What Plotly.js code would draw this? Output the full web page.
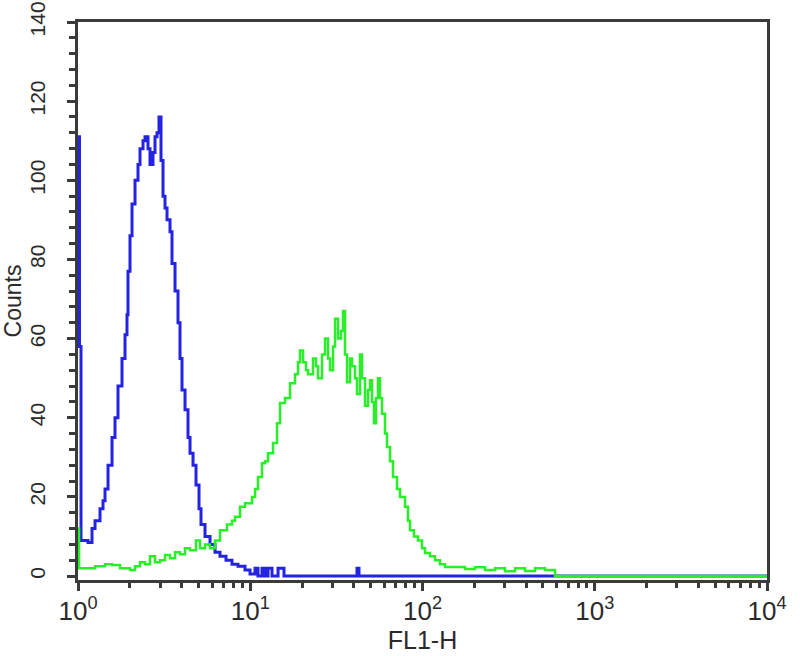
<!DOCTYPE html>
<html>
<head>
<meta charset="utf-8">
<script src="https://cdn.plot.ly/plotly-3.0.1.min.js"></script>
<style>html,body{margin:0;padding:0;background:#fff;}#chart{width:800px;height:656px;}</style>
</head>
<body>
<div id="chart"></div>
<script>
// Isotype control (blue) histogram: FL1-H value and counts
const controlFL1H = [1, 1.020, 1.041, 1.143, 1.206, 1.256, 1.342, 1.397, 1.435, 1.494, 1.576, 1.640, 1.707, 1.801, 1.875, 1.925, 1.951, 2.004, 2.059, 2.143, 2.230, 2.291, 2.385, 2.449, 2.549, 2.618, 2.725, 2.799, 2.875, 2.953, 3.033, 3.116, 3.200, 3.287, 3.421, 3.514, 3.658, 3.807, 3.910, 4.016, 4.181, 4.352, 4.470, 4.653, 4.843, 5.041, 5.178, 5.462, 5.840, 6.243, 6.674, 7.231, 7.834, 8.488, 9.322, 9.967, 10.66, 11.09, 11.70, 12.18, 12.68, 13.38, 14.50, 15.70, 40.56, 41.66, 42.79, 10000];
const controlCounts = [111, 58, 9, 8.5, 12, 14, 17, 19, 22, 28, 35, 40, 48, 55, 61, 66, 77, 86, 94, 100, 104, 108, 110, 111, 108, 104, 107, 111, 112, 116, 105, 96, 93, 90, 87, 79, 72, 64, 55, 47, 42, 35, 31, 28, 23, 17, 13, 10, 8, 6, 5, 4, 3, 2.5, 1.5, 0.5, 2, 0, 2, 0, 2, 0, 2, 0, 0, 2, 0, 0];

// Antibody-stained sample (green) histogram
const sampleFL1H = [1, 1.014, 1.098, 1.256, 1.435, 1.576, 1.753, 2.004, 2.143, 2.291, 2.449, 2.618, 2.799, 2.993, 3.200, 3.421, 3.658, 3.910, 4.181, 4.470, 4.843, 5.109, 5.462, 5.840, 6.243, 6.674, 7.328, 7.834, 8.155, 8.719, 9.322, 10.24, 10.66, 11.09, 11.70, 12.18, 12.68, 13.56, 14.30, 14.89, 15.91, 17.02, 18.19, 18.94, 19.45, 20.25, 21.07, 21.65, 23.14, 24.09, 24.74, 26.10, 27.17, 28.28, 29.05, 30.24, 31.06, 32.33, 33.65, 34.56, 35.50, 36.46, 37.95, 38.98, 40.56, 41.66, 43.37, 44.55, 46.37, 48.27, 49.57, 50.92, 52.29, 53.71, 55.16, 56.66, 58.20, 60.58, 62.22, 64.77, 67.42, 71.12, 74.03, 79.15, 82.38, 84.61, 89.25, 94.16, 99.33, 103.4, 110.5, 118.2, 126.3, 135.1, 154.4, 176.5, 201.7, 230.6, 263.6, 301.2, 344.4, 393.6, 449.9, 514.3, 587.8, 10000];
const sampleCounts = [12, 2, 2, 2.5, 3, 2.8, 2, 1.5, 2.5, 3.5, 3, 5, 3.5, 4, 5.3, 4.5, 6, 5.5, 7, 6.5, 9, 7, 8, 7, 9, 11.6, 13, 14, 15, 17.5, 18.4, 20, 22, 25, 28.5, 29, 31, 33.6, 38.6, 43.7, 45, 48.7, 51, 54, 57, 54, 52, 51, 55, 53, 50, 56, 60, 55, 52, 58, 65, 60, 62, 67, 56, 49, 55, 53, 50, 46, 56, 50, 43, 47, 49.5, 44, 38.6, 45, 50, 45, 41, 36, 32.6, 29, 25, 22, 20, 17.5, 14, 11.6, 10, 9, 7, 5.8, 5, 4, 3, 2.3, 2.3, 1.8, 2.2, 1.5, 2, 1.2, 2, 1.3, 2, 1.5, 0, 0];

// Axis ticks
const xTickVals = [1, 10, 100, 1000, 10000];
const xTickText = ['10<sup>0</sup>', '10<sup>1</sup>', '10<sup>2</sup>', '10<sup>3</sup>', '10<sup>4</sup>'];
const yTickVals = [0, 20, 40, 60, 80, 100, 120, 140];

const traces = [
  {x: controlFL1H, y: controlCounts, type: 'scatter', mode: 'lines', line: {shape: 'hv', color: 'rgb(35,35,225)', width: 3}, hoverinfo: 'x+y'},
  {x: sampleFL1H, y: sampleCounts, type: 'scatter', mode: 'lines', line: {shape: 'hv', color: 'rgb(40,240,40)', width: 2.5}, hoverinfo: 'x+y'}
];

const axisColor = '#3a3a3a';
const layout = {
  width: 800, height: 656,
  margin: {l: 78, r: 33, t: 22, b: 76},
  paper_bgcolor: '#fff', plot_bgcolor: '#fff',
  showlegend: false,
  font: {family: 'Liberation Sans, Arial, sans-serif', color: '#2a2a2a'},
  xaxis: {
    type: 'log', range: [0, 4],
    tickmode: 'array', tickvals: xTickVals, ticktext: xTickText,
    ticks: 'outside', ticklen: 8, tickwidth: 3, tickcolor: axisColor,
    minor: {dtick: 'D1', ticks: 'outside', ticklen: 5, tickwidth: 3, tickcolor: axisColor, showgrid: false},
    showline: true, linecolor: axisColor, linewidth: 3, mirror: true,
    showgrid: false, zeroline: false,
    tickfont: {size: 26, color: '#2a2a2a'},
    ticklabelstandoff: -2,
    title: {text: 'FL1-H', font: {size: 25, color: '#2a2a2a'}, standoff: 0}
  },
  yaxis: {
    range: [-1, 140],
    tickmode: 'array', tickvals: yTickVals,
    tickangle: -90,
    ticks: 'outside', ticklen: 8, tickwidth: 3, tickcolor: axisColor,
    minor: {dtick: 4, tick0: 0, ticks: 'outside', ticklen: 6, tickwidth: 3, tickcolor: axisColor, showgrid: false},
    showline: true, linecolor: axisColor, linewidth: 3, mirror: true,
    showgrid: false, zeroline: false,
    tickfont: {size: 21, color: '#2a2a2a'},
    ticklabelstandoff: 14,
    title: {text: 'Counts', font: {size: 23, color: '#2a2a2a'}, standoff: 4}
  }
};

Plotly.newPlot('chart', traces, layout, {displayModeBar: false, staticPlot: true});
</script>
</body>
</html>
